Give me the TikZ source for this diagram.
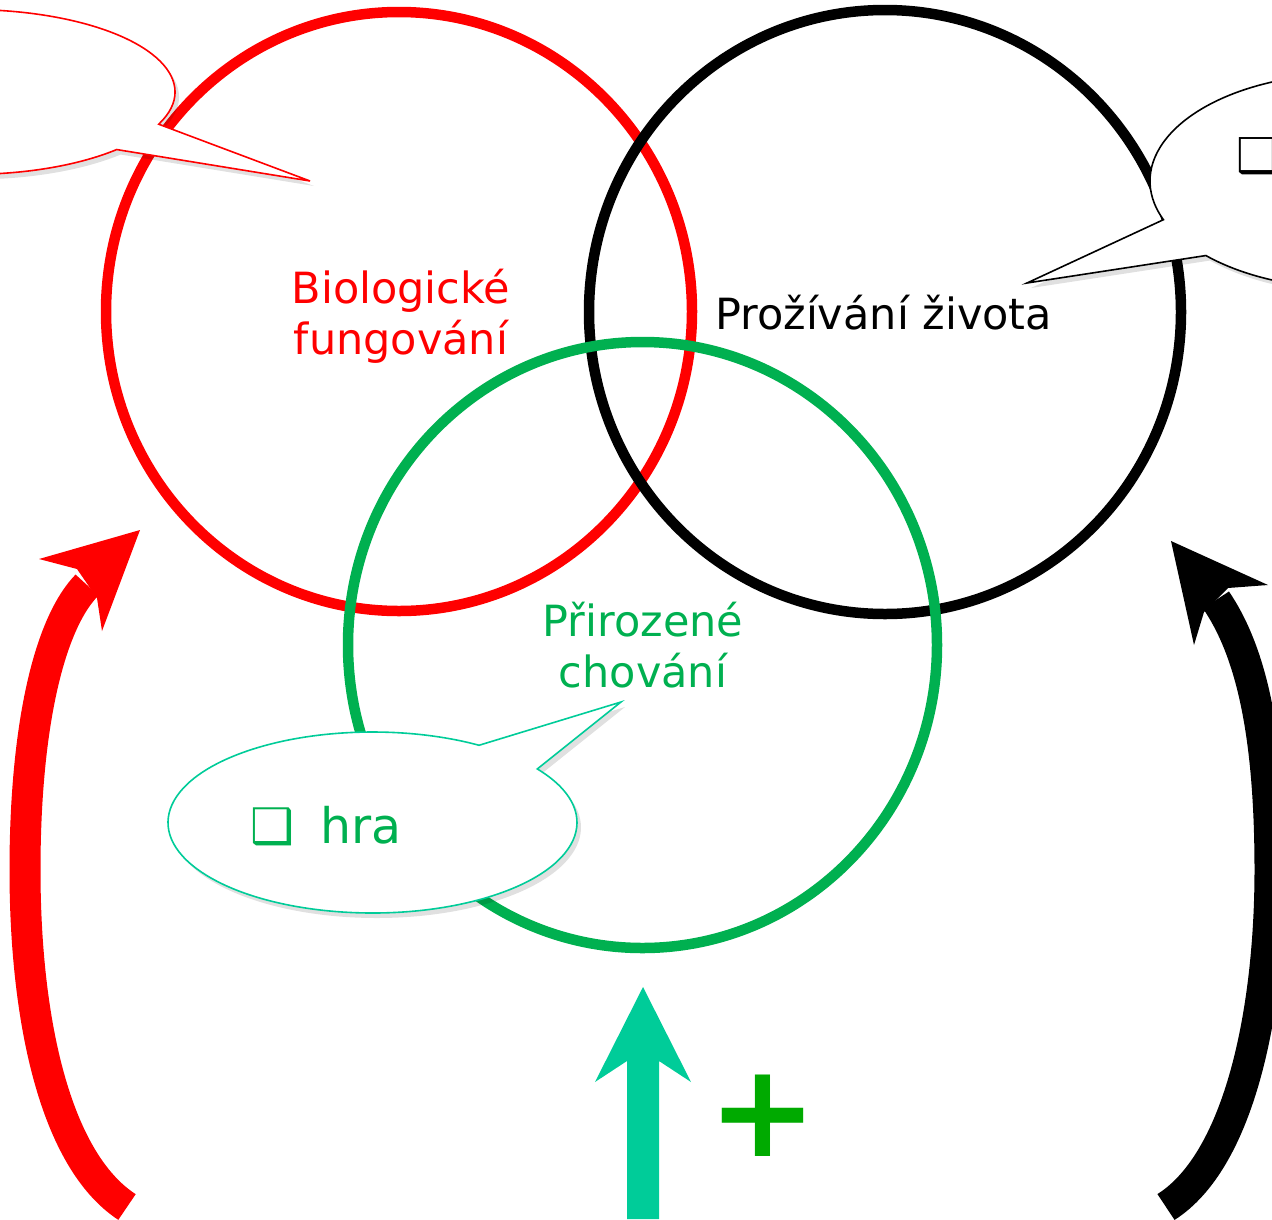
\documentclass[tikz,border=0pt]{standalone}
\usepackage{fontspec}
\setmainfont{DejaVu Sans}
\usetikzlibrary{calc}
\definecolor{cRed}{HTML}{FF0000}
\definecolor{cGreen}{HTML}{00B050}
\definecolor{cTeal}{HTML}{00CC99}
\definecolor{cPlus}{HTML}{00AA00}
\tikzset{
  ring/.style={line width=10.5pt},
  callout/.style={fill=white, line width=1.6pt},
  calloutshadow/.style={fill=black, opacity=0.12},
  lbl/.style={inner sep=0pt, font=\fontsize{43}{51}\selectfont, align=center},
  shaft/.style={line width=31pt, line cap=butt},
}
\begin{document}
\begin{tikzpicture}[x=1pt,y=-1pt]
\useasboundingbox (0,0) rectangle (1272,1219);
\clip (0,0) rectangle (1272,1219);
% circles
\coordinate (cR) at (399,311.5);
\coordinate (cB) at (885,312);
\coordinate (cG) at (642.5,645);
\draw[ring, draw=cRed] (cR) ellipse [x radius=293, y radius=299.5];
\draw[ring, draw=black] (cB) ellipse [x radius=296, y radius=302];
\draw[ring, draw=cGreen] (cG) ellipse [x radius=294.5, y radius=303];
% labels
\node[lbl, text=cRed] (bio) at (401,316) {Biologické\\fungování};
\node[lbl, text=black, anchor=base west] (proz) at (715,329) {Prožívání života};
\node[lbl, text=cGreen] (prir) at (643,645) {Přirozené\\chování};
% top-left callout
\coordinate (eTL) at (-30,92);
\coordinate (tTL) at (310,181);
\fill[calloutshadow] ($(eTL)+(4,5)$) ++(23:205 and 82.4) arc[start angle=23, end angle=-315.7, x radius=205, y radius=82.4] -- ($(tTL)+(4,5)$) -- cycle;
\draw[callout, draw=cRed] (eTL) ++(23:205 and 82.4) arc[start angle=23, end angle=-315.7, x radius=205, y radius=82.4] -- (tTL) -- cycle;
% top-right callout
\coordinate (eTR) at (1350,181);
\coordinate (tTR) at (1027,283);
\fill[calloutshadow] ($(eTR)+(4,5)$) ++(158.9:200 and 107.5) arc[start angle=158.9, end angle=496.1, x radius=200, y radius=107.5] -- ($(tTR)+(4,5)$) -- cycle;
\draw[callout, draw=black] (eTR) ++(158.9:200 and 107.5) arc[start angle=158.9, end angle=496.1, x radius=200, y radius=107.5] -- (tTR) -- cycle;
\node[inner sep=0pt, anchor=base west, font=\fontsize{48}{56}\selectfont] (trtxt) at (1236,172) {❑};
% hra callout
\coordinate (eH) at (372.5,822.5);
\coordinate (tH) at (621,702);
\fill[calloutshadow] ($(eH)+(4,5)$) ++(-36.3:204.5 and 90.5) arc[start angle=-36.3, end angle=301.4, x radius=204.5, y radius=90.5] -- ($(tH)+(4,5)$) -- cycle;
\draw[callout, draw=cTeal] (eH) ++(-36.3:204.5 and 90.5) arc[start angle=-36.3, end angle=301.4, x radius=204.5, y radius=90.5] -- (tH) -- cycle;
\node[inner sep=0pt, anchor=base west, text=cGreen, font=\fontsize{49}{56}\selectfont] (hra) at (250,843) {❑\hspace{26pt}hra};
% red curved arrow
\coordinate (rTail) at (127,1207);
\coordinate (rMid) at (25,870);
\coordinate (rEnd) at (87,585);
\draw[shaft, draw=cRed] (rTail) .. controls (55,1160) and (25,1020) .. (rMid) .. controls (25,730) and (48,625) .. (rEnd);
\fill[cRed] (140,530) -- (39,559) -- (77,569) -- (97,598) -- (102,631) -- cycle;
% black curved arrow
\coordinate (bTail) at (1166,1207);
\coordinate (bMid) at (1270,870);
\coordinate (bEnd) at (1216,600);
\draw[shaft, draw=black] (bTail) .. controls (1240,1160) and (1270,1010) .. (bMid) .. controls (1270,730) and (1250,650) .. (bEnd);
\fill[black] (1171,541) -- (1268,585) -- (1228,588) -- (1204,612) -- (1194,645) -- cycle;
% teal straight arrow
\fill[cTeal] (643,987) -- (691,1082) -- (659,1061) -- (659,1219) -- (627,1219) -- (627,1061) -- (595,1082) -- cycle;
% plus
\node[inner sep=0pt, anchor=north, text=cPlus, font=\fontsize{130}{130}\selectfont\bfseries] (plus) at (763,1075) {+};
\end{tikzpicture}
\end{document}
